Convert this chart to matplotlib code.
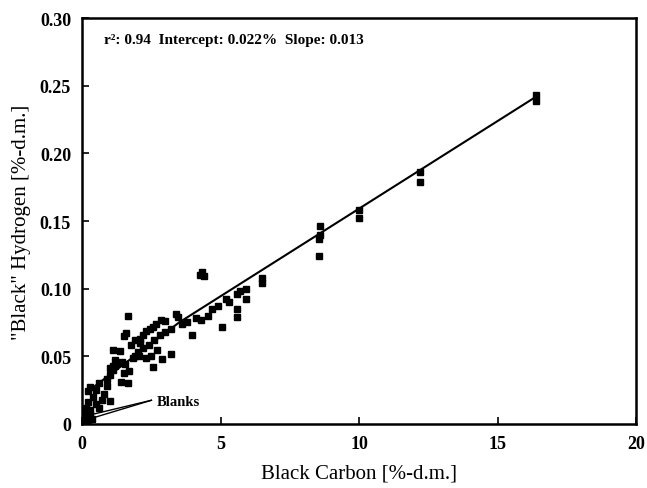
import matplotlib.pyplot as plt

# datos (carbono negro vs hidrogeno "negro")
bc = [16.4, 16.4, 12.2, 12.2, 10.0, 10.0, 8.6, 8.6, 8.55, 8.55,
      6.5, 6.5, 5.9, 5.7, 5.6, 5.3, 5.2, 5.9, 5.6, 5.6, 5.05, 4.9, 4.7, 4.55, 4.3,
      4.33, 4.25, 4.4, 3.95,
      3.6, 3.8, 4.1, 3.2, 3.0, 2.8, 2.6, 2.4, 2.2, 2.0, 1.9,
      3.4, 3.45, 2.85, 3.0, 2.65, 2.55, 2.45, 2.3, 2.2, 2.1, 2.1, 1.9, 1.65, 1.5,
      1.6, 1.1, 1.35, 1.75, 1.2, 2.7,
      2.55, 2.9, 3.2, 1.4, 1.65, 1.0, 1.7, 1.5, 1.55, 1.85, 2.05, 2.3, 2.5,
      0.2, 0.5, 0.8, 0.3, 0.6, 0.9, 1.0, 1.1, 1.2, 0.4, 0.7, 0.2, 0.5, 0.9,
      1.3, 1.45, 1.0, 1.1, 0.3, 0.15, 0.6,
      0.1, 0.2, 0.35, 0.15, 0.3, 0.1]
bh = [0.243, 0.239, 0.186, 0.179, 0.158, 0.152, 0.146, 0.140, 0.137, 0.124,
      0.108, 0.104, 0.100, 0.098, 0.096, 0.090, 0.092, 0.092, 0.085, 0.079, 0.072, 0.087, 0.085, 0.080, 0.077,
      0.112, 0.110, 0.109, 0.066,
      0.074, 0.075, 0.078, 0.070, 0.068, 0.066, 0.062, 0.058, 0.056, 0.053, 0.050,
      0.081, 0.079, 0.077, 0.076, 0.074, 0.072, 0.070, 0.069, 0.066, 0.063, 0.060, 0.062, 0.080, 0.065,
      0.067, 0.055, 0.054, 0.058, 0.047, 0.055,
      0.042, 0.048, 0.052, 0.031, 0.030, 0.017, 0.039, 0.038, 0.044, 0.049, 0.050, 0.049, 0.050,
      0.024, 0.025, 0.022, 0.027, 0.030, 0.033, 0.036, 0.040, 0.043, 0.020, 0.018, 0.016, 0.015, 0.028,
      0.045, 0.046, 0.041, 0.043, 0.010, 0.012, 0.012,
      0.005, 0.003, 0.004, 0.008, 0.007, 0.002]

# recta de regresion
linea_x = [0.2, 3.5, 16.4]
linea_y = [0.024, 0.075, 0.242]

x_ticks = [0, 5, 10, 15, 20]
x_labels = ['0', '5', '10', '15', '20']
y_ticks = [0, 0.05, 0.10, 0.15, 0.20, 0.25, 0.30]
y_labels = ['0', '0.05', '0.10', '0.15', '0.20', '0.25', '0.30']

plt.rcParams['font.family'] = ['Liberation Serif', 'DejaVu Serif']

fig = plt.figure(figsize=(6.47, 4.89), dpi=100)
ax = fig.add_axes([0.127, 0.131, 0.856, 0.830])

ax.plot(linea_x, linea_y, color='black', lw=1.5, zorder=2)
ax.plot(bc, bh, 's', color='black', markersize=4.8, zorder=3)

# anotacion de los blancos
ax.plot([2.5, 0.15], [0.0175, 0.006], color='black', lw=1)
ax.plot([2.5, 0.15], [0.0175, 0.003], color='black', lw=1)
ax.text(2.7, 0.0165, 'Blanks', fontsize=10.5, fontweight='bold', va='center', ha='left')

ax.text(0.8, 0.284, 'r²: 0.94  Intercept: 0.022%  Slope: 0.013', fontsize=11,
        fontweight='bold', va='center', ha='left')

ax.set_xlim(0, 20)
ax.set_ylim(0, 0.30)
ax.set_xticks(x_ticks)
ax.set_xticklabels(x_labels, fontsize=13, fontweight='bold')
ax.set_yticks(y_ticks)
ax.set_yticklabels(y_labels, fontsize=13, fontweight='bold')
ax.tick_params(direction='in', length=5, width=1.2, pad=8)

for s in ax.spines.values():
    s.set_linewidth(1.8)

ax.set_xlabel('Black Carbon [%-d.m.]', fontsize=15, labelpad=8)
ax.set_ylabel('"Black" Hydrogen [%-d.m.]', fontsize=15, labelpad=6)

fig.savefig('out.png', dpi=100)
